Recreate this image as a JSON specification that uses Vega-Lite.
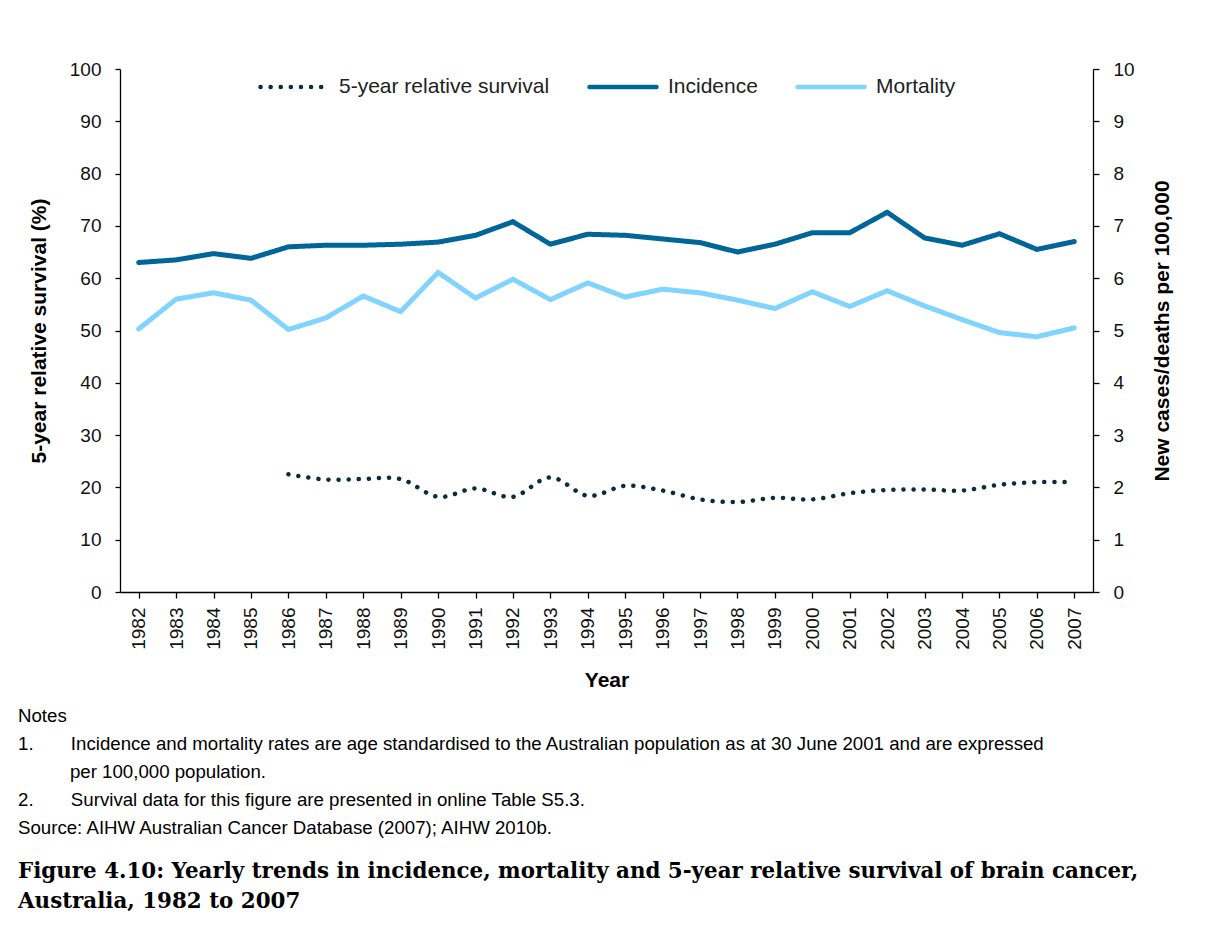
{
  "$schema": "https://vega.github.io/schema/vega-lite/v6.json",
  "width": 973,
  "height": 523,
  "autosize": {"type": "none"},
  "padding": {"left": 120, "top": 69, "right": 133, "bottom": 335},
  "background": "white",
  "config": {
    "view": {"stroke": null},
    "font": "Liberation Sans",
    "axis": {
      "domainColor": "#000",
      "domainWidth": 1.3,
      "tickColor": "#000",
      "tickWidth": 1.3,
      "labelColor": "#111",
      "labelFont": "Liberation Sans",
      "labelFontSize": 19,
      "titleFont": "Liberation Sans",
      "titleFontSize": 21,
      "titleFontWeight": "bold",
      "titleColor": "#000",
      "grid": false
    },
    "legend": {
      "orient": "none",
      "legendX": 138,
      "legendY": -18,
      "direction": "horizontal",
      "columns": 3,
      "symbolType": "stroke",
      "symbolSize": 4489,
      "symbolStrokeWidth": 4.5,
      "labelFont": "Liberation Sans",
      "labelFontSize": 21,
      "labelColor": "#222",
      "labelOffset": 9,
      "columnPadding": 30,
      "labelLimit": 400
    }
  },
  "data": {
    "values": [
      {"year": "1982", "series": "Incidence", "value": 6.30},
      {"year": "1983", "series": "Incidence", "value": 6.35},
      {"year": "1984", "series": "Incidence", "value": 6.47},
      {"year": "1985", "series": "Incidence", "value": 6.38},
      {"year": "1986", "series": "Incidence", "value": 6.60},
      {"year": "1987", "series": "Incidence", "value": 6.63},
      {"year": "1988", "series": "Incidence", "value": 6.63},
      {"year": "1989", "series": "Incidence", "value": 6.65},
      {"year": "1990", "series": "Incidence", "value": 6.69},
      {"year": "1991", "series": "Incidence", "value": 6.82},
      {"year": "1992", "series": "Incidence", "value": 7.08},
      {"year": "1993", "series": "Incidence", "value": 6.65},
      {"year": "1994", "series": "Incidence", "value": 6.84},
      {"year": "1995", "series": "Incidence", "value": 6.82},
      {"year": "1996", "series": "Incidence", "value": 6.75},
      {"year": "1997", "series": "Incidence", "value": 6.68},
      {"year": "1998", "series": "Incidence", "value": 6.50},
      {"year": "1999", "series": "Incidence", "value": 6.65},
      {"year": "2000", "series": "Incidence", "value": 6.87},
      {"year": "2001", "series": "Incidence", "value": 6.87},
      {"year": "2002", "series": "Incidence", "value": 7.26},
      {"year": "2003", "series": "Incidence", "value": 6.77},
      {"year": "2004", "series": "Incidence", "value": 6.63},
      {"year": "2005", "series": "Incidence", "value": 6.85},
      {"year": "2006", "series": "Incidence", "value": 6.55},
      {"year": "2007", "series": "Incidence", "value": 6.70},
      {"year": "1982", "series": "Mortality", "value": 5.03},
      {"year": "1983", "series": "Mortality", "value": 5.60},
      {"year": "1984", "series": "Mortality", "value": 5.72},
      {"year": "1985", "series": "Mortality", "value": 5.58},
      {"year": "1986", "series": "Mortality", "value": 5.02},
      {"year": "1987", "series": "Mortality", "value": 5.24},
      {"year": "1988", "series": "Mortality", "value": 5.66},
      {"year": "1989", "series": "Mortality", "value": 5.36},
      {"year": "1990", "series": "Mortality", "value": 6.11},
      {"year": "1991", "series": "Mortality", "value": 5.62},
      {"year": "1992", "series": "Mortality", "value": 5.98},
      {"year": "1993", "series": "Mortality", "value": 5.59},
      {"year": "1994", "series": "Mortality", "value": 5.91},
      {"year": "1995", "series": "Mortality", "value": 5.64},
      {"year": "1996", "series": "Mortality", "value": 5.79},
      {"year": "1997", "series": "Mortality", "value": 5.72},
      {"year": "1998", "series": "Mortality", "value": 5.58},
      {"year": "1999", "series": "Mortality", "value": 5.42},
      {"year": "2000", "series": "Mortality", "value": 5.74},
      {"year": "2001", "series": "Mortality", "value": 5.46},
      {"year": "2002", "series": "Mortality", "value": 5.76},
      {"year": "2003", "series": "Mortality", "value": 5.47},
      {"year": "2004", "series": "Mortality", "value": 5.21},
      {"year": "2005", "series": "Mortality", "value": 4.96},
      {"year": "2006", "series": "Mortality", "value": 4.88},
      {"year": "2007", "series": "Mortality", "value": 5.05},
      {"year": "1986", "series": "5-year relative survival", "value": 22.5},
      {"year": "1987", "series": "5-year relative survival", "value": 21.5},
      {"year": "1988", "series": "5-year relative survival", "value": 21.6},
      {"year": "1989", "series": "5-year relative survival", "value": 21.6},
      {"year": "1990", "series": "5-year relative survival", "value": 18.2},
      {"year": "1991", "series": "5-year relative survival", "value": 19.8},
      {"year": "1992", "series": "5-year relative survival", "value": 18.2},
      {"year": "1993", "series": "5-year relative survival", "value": 21.9},
      {"year": "1994", "series": "5-year relative survival", "value": 18.4},
      {"year": "1995", "series": "5-year relative survival", "value": 20.3},
      {"year": "1996", "series": "5-year relative survival", "value": 19.4},
      {"year": "1997", "series": "5-year relative survival", "value": 17.7},
      {"year": "1998", "series": "5-year relative survival", "value": 17.2},
      {"year": "1999", "series": "5-year relative survival", "value": 18.0},
      {"year": "2000", "series": "5-year relative survival", "value": 17.7},
      {"year": "2001", "series": "5-year relative survival", "value": 18.9},
      {"year": "2002", "series": "5-year relative survival", "value": 19.5},
      {"year": "2003", "series": "5-year relative survival", "value": 19.6},
      {"year": "2004", "series": "5-year relative survival", "value": 19.4},
      {"year": "2005", "series": "5-year relative survival", "value": 20.5},
      {"year": "2006", "series": "5-year relative survival", "value": 21.0},
      {"year": "2007", "series": "5-year relative survival", "value": 21.0}
    ]
  },
  "title": {
    "text": [
      "Notes",
      "1.\u2003\u2003Incidence and mortality rates are age standardised to the Australian population as at 30 June 2001 and are expressed",
      "\u200b\u2003\u2003\u2002\u2009\u200aper 100,000 population.",
      "2.\u2003\u2003Survival data for this figure are presented in online Table S5.3.",
      "Source: AIHW Australian Cancer Database (2007); AIHW 2010b."
    ],
    "subtitle": [
      "Figure 4.10: Yearly trends in incidence, mortality and 5-year relative survival of brain cancer,",
      "Australia, 1982 to 2007"
    ],
    "orient": "bottom",
    "anchor": "start",
    "frame": "group",
    "dx": -102,
    "offset": 17,
    "font": "Liberation Sans",
    "fontSize": 18.67,
    "fontWeight": "normal",
    "color": "#000",
    "lineHeight": 28,
    "subtitleFont": "DejaVu Serif",
    "subtitleFontSize": 21.4,
    "subtitleFontWeight": "bold",
    "subtitleColor": "#000",
    "subtitleLineHeight": 30,
    "subtitlePadding": 23
  },
  "layer": [
    {
      "transform": [{"filter": "datum.series === '5-year relative survival'"}],
      "mark": {"type": "line", "strokeWidth": 4.5, "strokeCap": "round", "interpolate": "cardinal"},
      "encoding": {
        "x": {
          "field": "year", "type": "ordinal",
          "scale": {"type": "point", "padding": 0.5},
          "axis": {"title": "Year", "labelAngle": 270, "tickSize": 6, "labelPadding": 9, "titlePadding": 20}
        },
        "y": {
          "field": "value", "type": "quantitative",
          "scale": {"domain": [0, 100], "nice": false},
          "axis": {"orient": "left", "title": "5-year relative survival (%)", "values": [0, 10, 20, 30, 40, 50, 60, 70, 80, 90, 100], "tickSize": 5, "labelPadding": 14, "titlePadding": 20}
        },
        "color": {
          "field": "series", "type": "nominal", "title": null,
          "scale": {"domain": ["5-year relative survival", "Incidence", "Mortality"], "range": ["#0c2b3c", "#006699", "#80d4ff"]},
          "legend": {"symbolStrokeWidth": 4.5, "encode": {"symbols": {"update": {"strokeCap": {"value": "round"}}}}}
        },
        "strokeDash": {
          "field": "series", "type": "nominal", "title": null,
          "scale": {"domain": ["5-year relative survival", "Incidence", "Mortality"], "range": [[0.1, 10], [1, 0], [1, 0]]}
        }
      }
    },
    {
      "transform": [{"filter": "datum.series !== '5-year relative survival'"}],
      "mark": {"type": "line", "strokeWidth": 5, "strokeCap": "round", "strokeJoin": "round"},
      "encoding": {
        "x": {"field": "year", "type": "ordinal"},
        "y": {
          "field": "value", "type": "quantitative",
          "scale": {"domain": [0, 10], "nice": false},
          "axis": {"orient": "right", "title": "New cases/deaths per 100,000", "titleAngle": 270, "values": [0, 1, 2, 3, 4, 5, 6, 7, 8, 9, 10], "format": "d", "tickSize": 6, "labelPadding": 14, "titlePadding": 38}
        },
        "color": {"field": "series", "type": "nominal", "title": null},
        "strokeDash": {"field": "series", "type": "nominal", "title": null}
      }
    }
  ],
  "resolve": {"scale": {"y": "independent"}}
}
